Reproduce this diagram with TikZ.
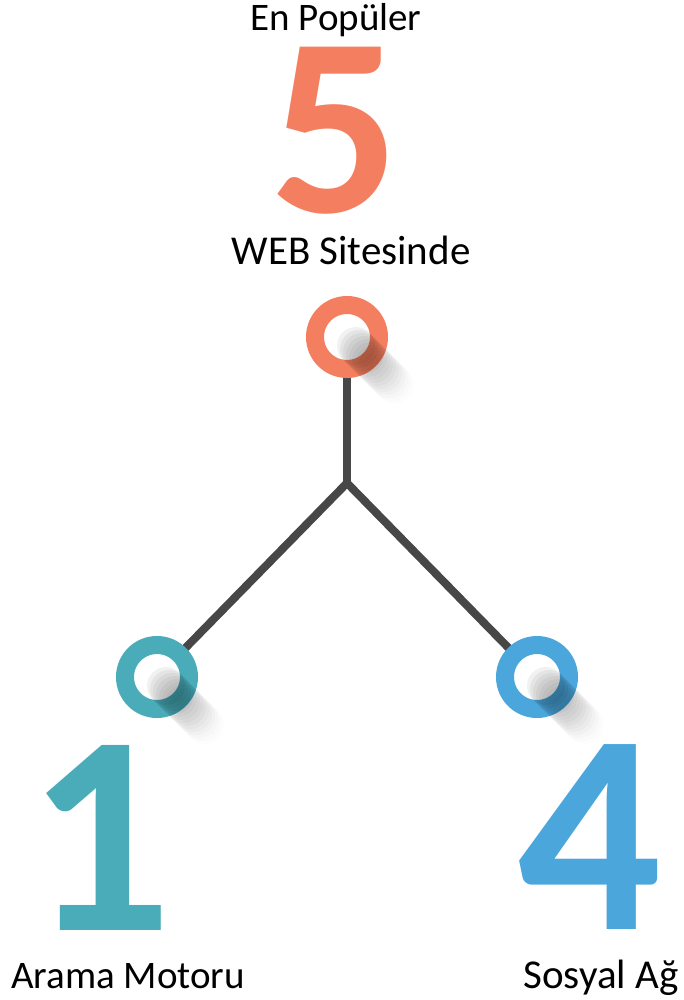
\documentclass[tikz,border=0pt]{standalone}
\usepackage{fontspec}
\setmainfont{Carlito}
\usetikzlibrary{positioning,calc,backgrounds}
\definecolor{webcol}{HTML}{F47F60}
\definecolor{searchcol}{HTML}{4AACB9}
\definecolor{socialcol}{HTML}{4BA6DB}
\definecolor{linkcol}{HTML}{474747}

\begin{document}
\begin{tikzpicture}[x=1pt,y=-1pt,
  ring/.style={circle,draw=#1,line width=18pt,fill=white,minimum size=64pt,inner sep=0pt},
  link/.style={draw=linkcol,line width=8pt},
  label/.style={anchor=base,inner sep=0pt,font=\fontsize{#1}{#1}\selectfont},
  bignum/.style={anchor=base,inner sep=0pt,text=#1,font=\fontsize{255}{260}\selectfont\bfseries}]
\useasboundingbox (0,0) rectangle (684,1000);
\node (top) [ring=webcol] at (347,337) {};
\node (left) [ring=searchcol] at (157,677) {};
\node (right) [ring=socialcol] at (537,677) {};
\coordinate (j) at (347,483);
\begin{scope}[on background layer]
\draw[link](top.center)--(j);
\draw[link](j)--(left.center);
\draw[link](j)--(right.center);
\end{scope}
% shadows
\foreach \c in {top,left,right}
  \foreach \i in {0,...,13}
    \fill[black,opacity={0.055-0.0037*\i}] ($(\c)+(9+3*\i,9+3*\i)$) circle (19);
\node (t1) [label=39] at (336,31) {En Popüler};
\node (t2) [bignum=webcol] at (335,213) {5};
\node (t3) [label=41] at (351,264) {WEB Sitesinde};
\node (n1) [bignum=searchcol,font=\fontsize{285}{290}\selectfont\bfseries] at (100,930) {1};
\node (n4) [bignum=socialcol,font=\fontsize{285}{290}\selectfont\bfseries] at (590,929) {4};
\node (l1) [label=39] at (128,988) {Arama Motoru};
\node (l4) [label=41] at (601,988) {Sosyal Ağ};
\end{tikzpicture}
\end{document}
